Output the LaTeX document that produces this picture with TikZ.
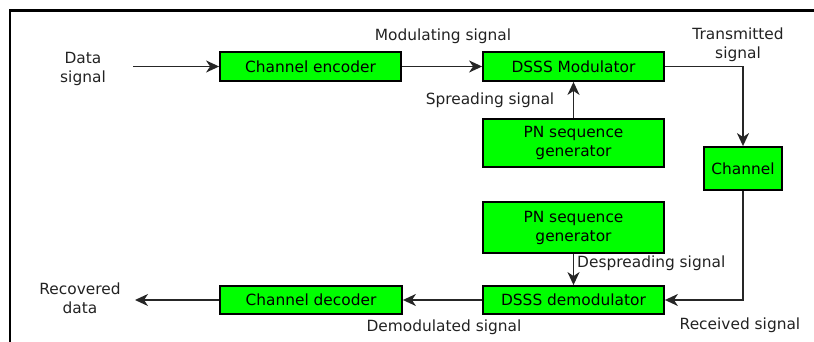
\documentclass[tikz,border=0pt]{standalone}
\usepackage{fontspec}
\setmainfont{DejaVu Sans}
\usetikzlibrary{arrows.meta}
\definecolor{boxgreen}{HTML}{00FF00}
\definecolor{txt}{HTML}{222222}
\tikzset{
  blk/.style={draw=black, line width=1.8pt, fill=boxgreen, inner sep=0pt, align=center,
    font=\fontsize{15.4}{19}\selectfont, text=black},
  lbl/.style={inner sep=0pt, align=center, font=\fontsize{15.4}{19}\selectfont, text=txt},
  conn/.style={draw=black!85, line width=1.7pt},
  arr/.style={conn, -{Stealth[length=13pt,width=12pt,inset=4pt]}},
}
\begin{document}
\begin{tikzpicture}[x=1pt,y=-1pt]
\useasboundingbox (0,0) rectangle (814,342);
% frame
\draw[line width=2.4pt, black] (10,342) -- (10,10.5) -- (814,10.5);
% blocks
\node[blk, minimum width=181pt, minimum height=29pt] (enc) at (310.5,66.5) {Channel encoder};
\node[blk, minimum width=181pt, minimum height=29pt] (mod) at (573.5,66.5) {DSSS Modulator};
\node[blk, minimum width=181pt, minimum height=48pt] (pn1) at (573.5,143) {PN sequence\\generator};
\node[blk, minimum width=78pt, minimum height=43pt] (chan) at (743,168.5) {Channel};
\node[blk, minimum width=181pt, minimum height=51pt] (pn2) at (573.5,227.5) {PN sequence\\generator};
\node[blk, minimum width=181pt, minimum height=28pt] (demod) at (573.5,300) {DSSS demodulator};
\node[blk, minimum width=182pt, minimum height=28pt] (dec) at (311,300) {Channel decoder};
% labels
\node[lbl] (ldata) at (83,69) {Data\\signal};
\node[lbl] (lrec) at (80,298) {Recovered\\data};
\node[lbl] (lmodsig) at (443,36) {Modulating signal};
\node[lbl] (lspread) at (490,100) {Spreading signal};
\node[lbl] (ltrans) at (738,45) {Transmitted\\signal};
\node[lbl, anchor=west] (ldesp) at (577,263) {Despreading signal};
\node[lbl] (lrecv) at (740,325) {Received signal};
\node[lbl] (ldemod) at (444,327) {Demodulated signal};
% connector end points
\coordinate (din) at (133,66.5);
\coordinate (dout) at (135,300);
\coordinate (c1) at (743,66.5);
\coordinate (c2) at (743,300);
% connectors
\draw[arr] (din) -- (enc.west);
\draw[arr] (enc.east) -- (mod.west);
\draw[arr] (pn1.north) -- (mod.south);
\draw[arr] (mod.east) -- (c1) -- (chan.north);
\draw[arr] (chan.south) -- (c2) -- (demod.east);
\draw[arr] (pn2.south) -- (demod.north);
\draw[arr] (demod.west) -- (dec.east);
\draw[arr] (dec.west) -- (dout);
\end{tikzpicture}
\end{document}
